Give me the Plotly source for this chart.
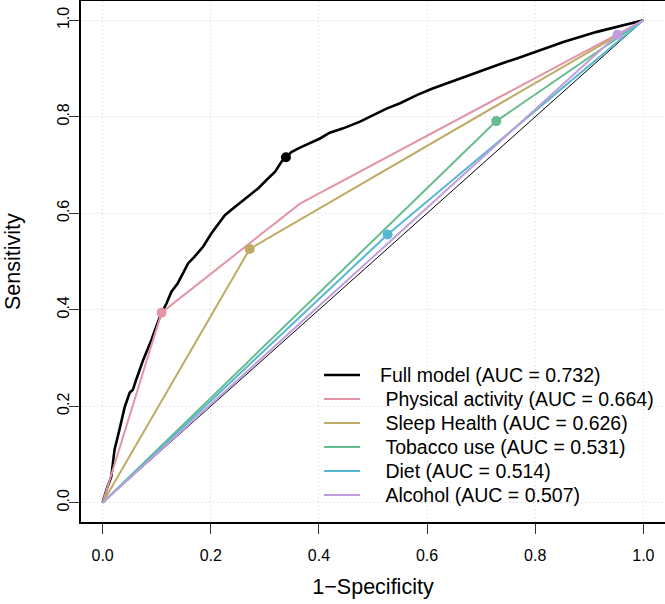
import plotly.graph_objects as go

# ---- data ----
full_fpr = [0.0, 0.008, 0.016, 0.022, 0.031, 0.041, 0.050, 0.056, 0.062, 0.075, 0.090, 0.106,
            0.118, 0.127, 0.139, 0.149, 0.158, 0.170, 0.186, 0.201, 0.214, 0.226, 0.241,
            0.257, 0.272, 0.288, 0.303, 0.319, 0.331, 0.339, 0.349, 0.365, 0.383, 0.402,
            0.420, 0.445, 0.476, 0.501, 0.525, 0.550, 0.581, 0.609, 0.643, 0.686, 0.729,
            0.766, 0.803, 0.852, 0.914, 1.0]
full_tpr = [0.0, 0.030, 0.054, 0.110, 0.151, 0.199, 0.228, 0.234, 0.255, 0.296, 0.337, 0.386,
            0.413, 0.437, 0.455, 0.476, 0.496, 0.510, 0.531, 0.558, 0.579, 0.596, 0.610,
            0.624, 0.638, 0.652, 0.669, 0.686, 0.707, 0.716, 0.727, 0.736, 0.746, 0.755,
            0.767, 0.776, 0.790, 0.803, 0.817, 0.828, 0.845, 0.858, 0.872, 0.890, 0.907,
            0.921, 0.935, 0.955, 0.976, 1.0]
full_best = (0.339, 0.716)

pa_fpr = [0.0, 0.109, 0.365, 1.0]
pa_tpr = [0.0, 0.394, 0.620, 1.0]
pa_best = (0.109, 0.394)

sleep_fpr = [0.0, 0.272, 1.0]
sleep_tpr = [0.0, 0.526, 1.0]
sleep_best = (0.272, 0.526)

tob_fpr = [0.0, 0.728, 1.0]
tob_tpr = [0.0, 0.791, 1.0]
tob_best = (0.728, 0.791)

diet_fpr = [0.0, 0.527, 1.0]
diet_tpr = [0.0, 0.556, 1.0]
diet_best = (0.527, 0.556)

alc_fpr = [0.0, 0.952, 1.0]
alc_tpr = [0.0, 0.970, 1.0]
alc_best = (0.952, 0.970)

names = ["Full model (AUC = 0.732)",
         "\u00a0Physical activity (AUC = 0.664)",
         "\u00a0Sleep Health (AUC = 0.626)",
         "\u00a0Tobacco use (AUC = 0.531)",
         "\u00a0Diet (AUC = 0.514)",
         "\u00a0Alcohol (AUC = 0.507)"]
colors = ["#000000", "#E495A5", "#BDAB66", "#65BC8C", "#55B8D0", "#C29DDE"]
widths = [2.6, 2, 2, 2, 2, 2]

tick_vals = [0.0, 0.2, 0.4, 0.6, 0.8, 1.0]
tick_text = ["0.0", "0.2", "0.4", "0.6", "0.8", "1.0"]

x_title = "1\u2212Specificity"
y_title = "Sensitivity"

series = [(full_fpr, full_tpr, full_best), (pa_fpr, pa_tpr, pa_best),
          (sleep_fpr, sleep_tpr, sleep_best), (tob_fpr, tob_tpr, tob_best),
          (diet_fpr, diet_tpr, diet_best), (alc_fpr, alc_tpr, alc_best)]

W, H = 665, 604
ML, MR, MT, MB = 81, 0, 1, 82
PW, PH = W - ML - MR, H - MT - MB

fig = go.Figure()
# reference diagonal
fig.add_trace(go.Scatter(x=[0, 1], y=[0, 1], mode="lines",
                         line=dict(color="#000000", width=1), showlegend=False,
                         hoverinfo="skip"))
for (fx, fy, best), nm, col, w in zip(series, names, colors, widths):
    fig.add_trace(go.Scatter(x=fx, y=fy, mode="lines", name=nm,
                             line=dict(color=col, width=w), showlegend=False))
for (fx, fy, best), col in zip(series, colors):
    fig.add_trace(go.Scatter(x=[best[0]], y=[best[1]], mode="markers",
                             marker=dict(color=col, size=10), showlegend=False))

def px_to_paper_x(px):
    return (px - ML) / PW

def px_to_paper_y(py):
    return 1 - (py - MT) / PH

# legend (drawn manually, no box, like R's legend(bty="n"))
row_y0, row_dy = 375, 24
for i, (nm, col, w) in enumerate(zip(names, colors, widths)):
    yy = px_to_paper_y(row_y0 + i * row_dy)
    fig.add_shape(type="line", xref="paper", yref="paper",
                  x0=px_to_paper_x(324), x1=px_to_paper_x(360), y0=yy, y1=yy,
                  line=dict(color=col, width=w))
    fig.add_annotation(xref="paper", yref="paper", x=px_to_paper_x(378), y=yy,
                       xanchor="left", yanchor="middle", text=nm, showarrow=False,
                       font=dict(size=19.5, color="#000000"))

# y axis title
fig.add_annotation(xref="paper", yref="paper", x=px_to_paper_x(13), y=px_to_paper_y(262),
                   xanchor="center", yanchor="middle", text=y_title, textangle=-90,
                   showarrow=False, font=dict(size=21.5, color="#000000"))

axis_common = dict(range=[-0.04, 1.04], tickvals=tick_vals, ticktext=tick_text,
                   showgrid=True, gridcolor="#d3d3d3", griddash="1px,3px", gridwidth=1,
                   zeroline=False, showline=True, linecolor="#000000", linewidth=1.5,
                   mirror=True, ticks="outside", ticklen=10, tickcolor="#333333",
                   tickwidth=1.2, tickfont=dict(size=16, color="#000000"),
                   automargin=False)

fig.update_layout(
    width=W, height=H,
    margin=dict(l=ML, r=MR, t=MT, b=MB),
    paper_bgcolor="white", plot_bgcolor="white",
    font=dict(family="Liberation Sans, Arial, sans-serif", color="#000000"),
    xaxis=dict(**axis_common, ticklabelstandoff=8,
               title=dict(text=x_title, font=dict(size=21.5), standoff=16)),
    yaxis=dict(**axis_common, tickangle=-90, ticklabelstandoff=-6),
    showlegend=False,
)

fig.write_html("out.html", config={"displayModeBar": False},
               post_script="document.body.style.margin='0px';")
